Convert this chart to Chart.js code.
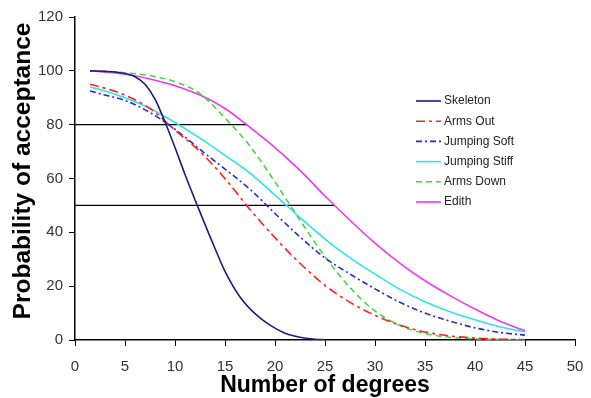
<!DOCTYPE html>
<html>
<head>
<meta charset="utf-8">
<script src="https://cdn.jsdelivr.net/npm/chart.js@4.4.1/dist/chart.umd.min.js"></script>
<style>
  html, body { margin: 0; padding: 0; background: #fff; }
  #wrap { width: 591px; height: 398px; }
</style>
</head>
<body>
<div id="wrap"><canvas id="c" width="591" height="398"></canvas></div>
<script>
// Rotation angle in degrees (sample positions shared by the slower curves)
const degrees = [1.5, 3, 5, 7.5, 10, 12.5, 15, 17.5, 20, 22.5, 25, 27.5, 30, 32.5, 35, 37.5, 40, 42.5, 45];
// The skeleton curve drops fast, so it is sampled more densely
const skeletonDegrees = [1.5, 3, 4.5, 6, 7, 8, 9, 10, 11, 12.5, 14, 15, 16.5, 18, 19.5, 21, 22.5, 24, 25];

// Probability of acceptance (%) for each pose
const skeleton     = [100, 99.8, 99.3, 97.8, 95, 89.5, 81, 71.5, 61.5, 47.5, 34, 25.5, 16, 9.8, 5.5, 2.5, 1, 0.3, 0.1];
const armsOut      = [95, 93.5, 91, 86, 78, 70, 60, 48.5, 38, 28.5, 20.3, 14, 9.2, 5.5, 3, 1.5, 0.7, 0.3, 0.1];
const jumpingSoft  = [92.5, 91, 89, 84.5, 78.3, 70.8, 63.5, 56, 47, 38.3, 30.5, 24.5, 19, 14, 10, 7, 4.5, 2.8, 1.8];
const jumpingStiff = [94, 92.5, 90, 86, 80.8, 75, 68.6, 62, 53.8, 45.5, 37.5, 30.5, 24.5, 18.8, 14.2, 10.5, 7.5, 4.9, 3];
const armsDown     = [100, 99.8, 99.3, 98.2, 96, 91.5, 82.5, 72, 58.7, 44.5, 31, 19.5, 10.8, 5.4, 2.4, 1, 0.4, 0.2, 0.1];
const edith        = [100, 99.6, 98.8, 97, 94.5, 91, 86, 79, 71.5, 63, 53.5, 44.5, 36, 28.5, 22, 16.5, 11.5, 7, 3.4];

// Acceptance thresholds and the angle where Edith reaches each of them
const cutoffLevels  = [80, 50];
const cutoffDegrees = [17.2, 25.9];

// Axis tick settings
const xTickStep = 5, xMax = 50;
const yTickStep = 20, yMax = 120;

const yTitle = 'Probability of acceptance';
const xTitle = 'Number of degrees';

const FONT = '"Liberation Sans", Arial, Helvetica, sans-serif';

const series = [
  { label: 'Skeleton',      xs: skeletonDegrees, values: skeleton,     color: '#1c1c80', dash: [] },
  { label: 'Arms Out',      xs: degrees,         values: armsOut,      color: '#ff2020', dash: [9, 4, 3, 4] },
  { label: 'Jumping Soft',  xs: degrees,         values: jumpingSoft,  color: '#2a2ad8', dash: [6, 3, 2, 3] },
  { label: 'Jumping Stiff', xs: degrees,         values: jumpingStiff, color: '#30e4e4', dash: [] },
  { label: 'Arms Down',     xs: degrees,         values: armsDown,     color: '#44d844', dash: [6, 4] },
  { label: 'Edith',         xs: degrees,         values: edith,        color: '#ec3aec', dash: [] }
];

const curveSets = series.map(s => ({
  label: s.label,
  data: s.values.map((v, i) => ({ x: s.xs[i], y: v })),
  borderColor: s.color,
  borderDash: s.dash,
  borderWidth: 1.6,
  pointRadius: 0,
  fill: false,
  cubicInterpolationMode: 'monotone'
}));

const cutoffSets = cutoffLevels.map((lvl, i) => ({
  label: 'cutoff ' + lvl,
  data: [{ x: 0, y: lvl }, { x: cutoffDegrees[i], y: lvl }],
  borderColor: '#000',
  borderWidth: 1.4,
  pointRadius: 0,
  fill: false,
  tension: 0
}));

// Legend drawn inside the plot, one row per pose
const insetLegend = {
  id: 'insetLegend',
  afterDraw(chart) {
    const ctx = chart.ctx;
    ctx.save();
    ctx.font = '12px ' + FONT;
    ctx.textBaseline = 'middle';
    ctx.textAlign = 'left';
    series.forEach((s, i) => {
      const y = 101 + i * 20.2;
      ctx.strokeStyle = s.color;
      ctx.lineWidth = 1.6;
      ctx.setLineDash(s.dash);
      ctx.beginPath();
      ctx.moveTo(416, y);
      ctx.lineTo(441, y);
      ctx.stroke();
      ctx.setLineDash([]);
      ctx.fillStyle = '#222';
      ctx.fillText(s.label, 444, y);
    });
    ctx.restore();
  }
};

// Vertical axis title, set a little above the middle of the axis
const yAxisTitle = {
  id: 'yAxisTitle',
  afterDraw(chart) {
    const ctx = chart.ctx;
    ctx.save();
    ctx.translate(23, 171);
    ctx.rotate(-Math.PI / 2);
    ctx.font = 'bold 24.5px ' + FONT;
    ctx.fillStyle = '#000';
    ctx.textAlign = 'center';
    ctx.textBaseline = 'middle';
    ctx.fillText(yTitle, 0, 0);
    ctx.restore();
  }
};

const whiteBg = {
  id: 'whiteBg',
  beforeDraw(chart) {
    const ctx = chart.ctx;
    ctx.save();
    ctx.fillStyle = '#fff';
    ctx.fillRect(0, 0, chart.width, chart.height);
    ctx.restore();
  }
};

new Chart(document.getElementById('c'), {
  type: 'line',
  data: { datasets: [...curveSets, ...cutoffSets] },
  options: {
    responsive: false,
    animation: false,
    events: [],
    layout: { padding: { top: 17, right: 16, left: 0, bottom: 0 } },
    plugins: { legend: { display: false }, tooltip: { enabled: false } },
    scales: {
      x: {
        type: 'linear',
        min: 0,
        max: xMax,
        ticks: { stepSize: xTickStep, color: '#333', font: { family: FONT, size: 15 }, padding: 12, maxRotation: 0 },
        grid: { drawOnChartArea: false, drawTicks: true, tickLength: 6, color: '#000', lineWidth: 1 },
        border: { color: '#000', width: 1.5 },
        title: { display: true, text: xTitle, color: '#000', font: { family: FONT, size: 23, weight: 'bold', lineHeight: 1 }, padding: { top: 0, bottom: 0.5 } },
        afterFit(scale) {
          scale.height = 58;
          scale.paddingLeft = 0;
          scale.paddingRight = 8;
        }
      },
      y: {
        min: 0,
        max: yMax,
        ticks: { stepSize: yTickStep, color: '#333', font: { family: FONT, size: 15 }, padding: 6 },
        grid: { drawOnChartArea: false, drawTicks: true, tickLength: 6, color: '#000', lineWidth: 1 },
        border: { color: '#000', width: 1.5 },
        title: { display: false },
        afterFit(scale) { scale.width = 75; }
      }
    }
  },
  plugins: [whiteBg, insetLegend, yAxisTitle]
});
</script>
</body>
</html>
